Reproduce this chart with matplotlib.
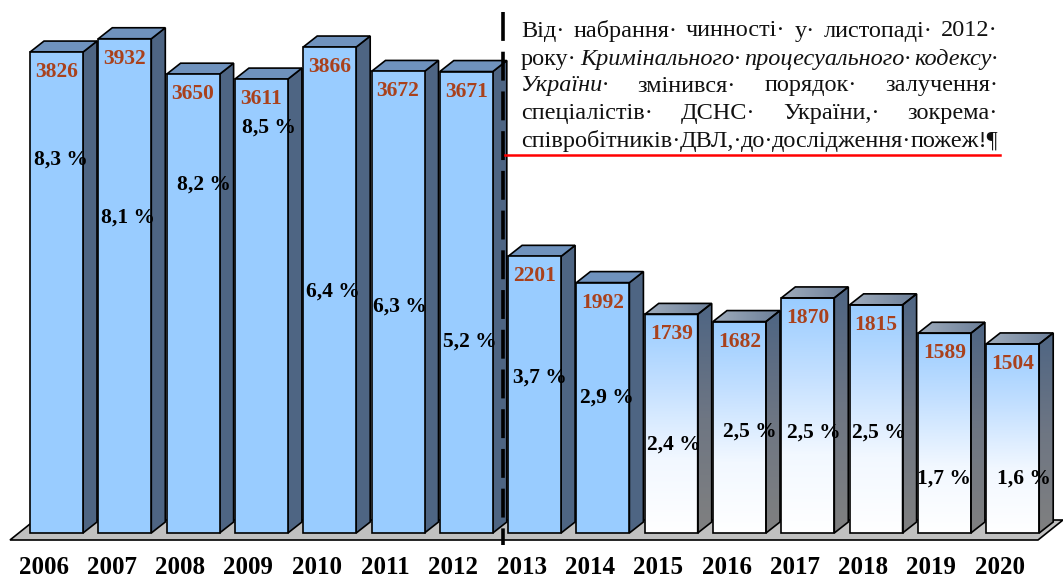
import numpy as np
import matplotlib.pyplot as plt
from matplotlib.patches import Polygon
from matplotlib.colors import LinearSegmentedColormap
from matplotlib.lines import Line2D

# data
years = ['2006', '2007', '2008', '2009', '2010', '2011', '2012', '2013',
         '2014', '2015', '2016', '2017', '2018', '2019', '2020']
counts = [3826, 3932, 3650, 3611, 3866, 3672, 3671, 2201,
          1992, 1739, 1682, 1870, 1815, 1589, 1504]
shares = ['8,3 %', '8,1 %', '8,2 %', '8,5 %', '6,4 %', '6,3 %', '5,2 %', '3,7 %',
          '2,9 %', '2,4 %', '2,5 %', '2,5 %', '2,5 %', '1,7 %', '1,6 %']

# where the share labels sit (in count units) and their x nudge (px)
share_label_y = [2967, 2506, 2768, 3222, 1917, 1798, 1519, 1233,
                 1075, 700, 803, 795, 795, 430, 430]
share_label_dx = [4, 3, 11, 8, 3, 2, 4, 5, 4, 3, 10, 6, 3, 0, 11]

gradient_from = 9  # bars from 2015 on fade to white

# figure layout: pixel scale of the chart
W_PX, H_PX = 1063, 579
PX_X = 68.3      # px per category
PX_Y = 0.1257    # px per count
X0_PX = 56.5     # centre of the first bar
BASE_PX = 533    # baseline (from top)

def xpx(p):
    return (p - X0_PX) / PX_X

def ypx(p):
    return (BASE_PX - p) / PX_Y

BW = 53 / PX_X
DX = 14 / PX_X
DY = 11 / PX_Y

FRONT = '#99CCFF'
SIDE = '#4E6583'
TOP = '#6F92BD'
VAL_COLOR = '#A9411C'
SERIF = 'Liberation Serif'

fig = plt.figure(figsize=(W_PX / 100, H_PX / 100), dpi=100)
ax = fig.add_axes([0, 0, 1, 1])
ax.set_axis_off()

# floor
floor = Polygon([(xpx(10), ypx(540)), (xpx(1038), ypx(540)),
                 (xpx(1063), ypx(520)), (xpx(35), ypx(520))],
                closed=True, facecolor='#C0C0C0', edgecolor='black', lw=1.2, zorder=1)
ax.add_patch(floor)

front_cmap = LinearSegmentedColormap.from_list('fr', ['#FFFFFF', '#F2F8FF', '#C4E0FF', FRONT])
side_cmap = LinearSegmentedColormap.from_list('sd', ['#808080', '#6E7683', SIDE])
top_cmap = LinearSegmentedColormap.from_list('tp', ['#9FACBC', '#6C7F99'])
grad = np.linspace(0, 1, 256).reshape(-1, 1)
grad_h = np.linspace(0, 1, 64).reshape(1, -1)

for i, v in enumerate(counts):
    z = 2 + i * 0.1
    l, r = i - BW / 2, i + BW / 2
    front_xy = [(l, 0), (r, 0), (r, v), (l, v)]
    side_xy = [(r, 0), (r + DX, DY), (r + DX, v + DY), (r, v)]
    top_xy = [(l, v), (l + DX, v + DY), (r + DX, v + DY), (r, v)]
    faded = i >= gradient_from
    for xy, col, cm, ext, g in [
            (side_xy, SIDE, side_cmap, (r, r + DX, 0, v + DY), grad),
            (top_xy, TOP, top_cmap, (l, r + DX, v, v + DY), grad_h),
            (front_xy, FRONT, front_cmap, (l, r, 0, v), grad)]:
        if faded:
            edge = Polygon(xy, closed=True, facecolor='none', edgecolor='black',
                           lw=1.2, zorder=z + 0.02)
            ax.add_patch(edge)
            im = ax.imshow(g, extent=ext, origin='lower', aspect='auto',
                           cmap=cm, zorder=z + 0.01, interpolation='bilinear')
            im.set_clip_path(edge)
        else:
            ax.add_patch(Polygon(xy, closed=True, facecolor=col, edgecolor='black',
                                 lw=1.2, zorder=z + 0.01))
    # value label
    ax.text(i, v - 20 / PX_Y, str(v), ha='center', va='center', color=VAL_COLOR,
            fontsize=15.5, fontweight='bold', family=SERIF, zorder=10)
    # share label
    ax.text(i + share_label_dx[i] / PX_X, share_label_y[i], shares[i], ha='center',
            va='center', color='black', fontsize=15.5, fontweight='bold',
            family=SERIF, zorder=10)
    # year label
    ax.text(i - 13 / PX_X, ypx(568), years[i], ha='center', va='center',
            color='black', fontsize=18, fontweight='bold', family=SERIF, zorder=10)

# dashed divider between 2012 and 2013
ax.plot([xpx(503), xpx(503)], [ypx(12), ypx(545)], color='black', lw=2.6,
        linestyle=(0, (8, 3)), zorder=9)

ax.set_xlim(xpx(0), xpx(W_PX))
ax.set_ylim(ypx(H_PX), ypx(0))

# annotation text, justified by hand
lines = [
    [('Від·', False), ('набрання·', False), ('чинності·', False), ('у·', False),
     ('листопаді·', False), ('2012·', False)],
    [('року·', False), ('Кримінального·', True), ('процесуального·', True),
     ('кодексу·', True)],
    [('України·', True), ('змінився·', False), ('порядок·', False), ('залучення·', False)],
    [('спеціалістів·', False), ('ДСНС·', False), ('України,·', False), ('зокрема·', False)],
    [('співробітників·', False), ('ДВЛ,·', False), ('до·', False),
     ('дослідження·', False), ('пожеж!¶', False)],
]
line_y = [31, 59, 86, 113, 141]
left_px, right_px = 521, 998

renderer = fig.canvas.get_renderer()
for tokens, yy in zip(lines, line_y):
    arts, widths = [], []
    for txt, it in tokens:
        t = fig.text(0, 1 - yy / H_PX, txt, fontsize=17.5, family=SERIF,
                     style='italic' if it else 'normal', va='center', ha='left',
                     color='#111111')
        arts.append(t)
        widths.append(t.get_window_extent(renderer).width)
    gap = (right_px - left_px - sum(widths)) / max(len(tokens) - 1, 1)
    x = left_px
    for t, w in zip(arts, widths):
        t.set_x(x / W_PX)
        x += w + gap

fig.add_artist(Line2D([505 / W_PX, 1000 / W_PX], [1 - 155 / H_PX, 1 - 155 / H_PX],
                      color='#FF0000', lw=1.8))

fig.savefig('out.png', dpi=100)
